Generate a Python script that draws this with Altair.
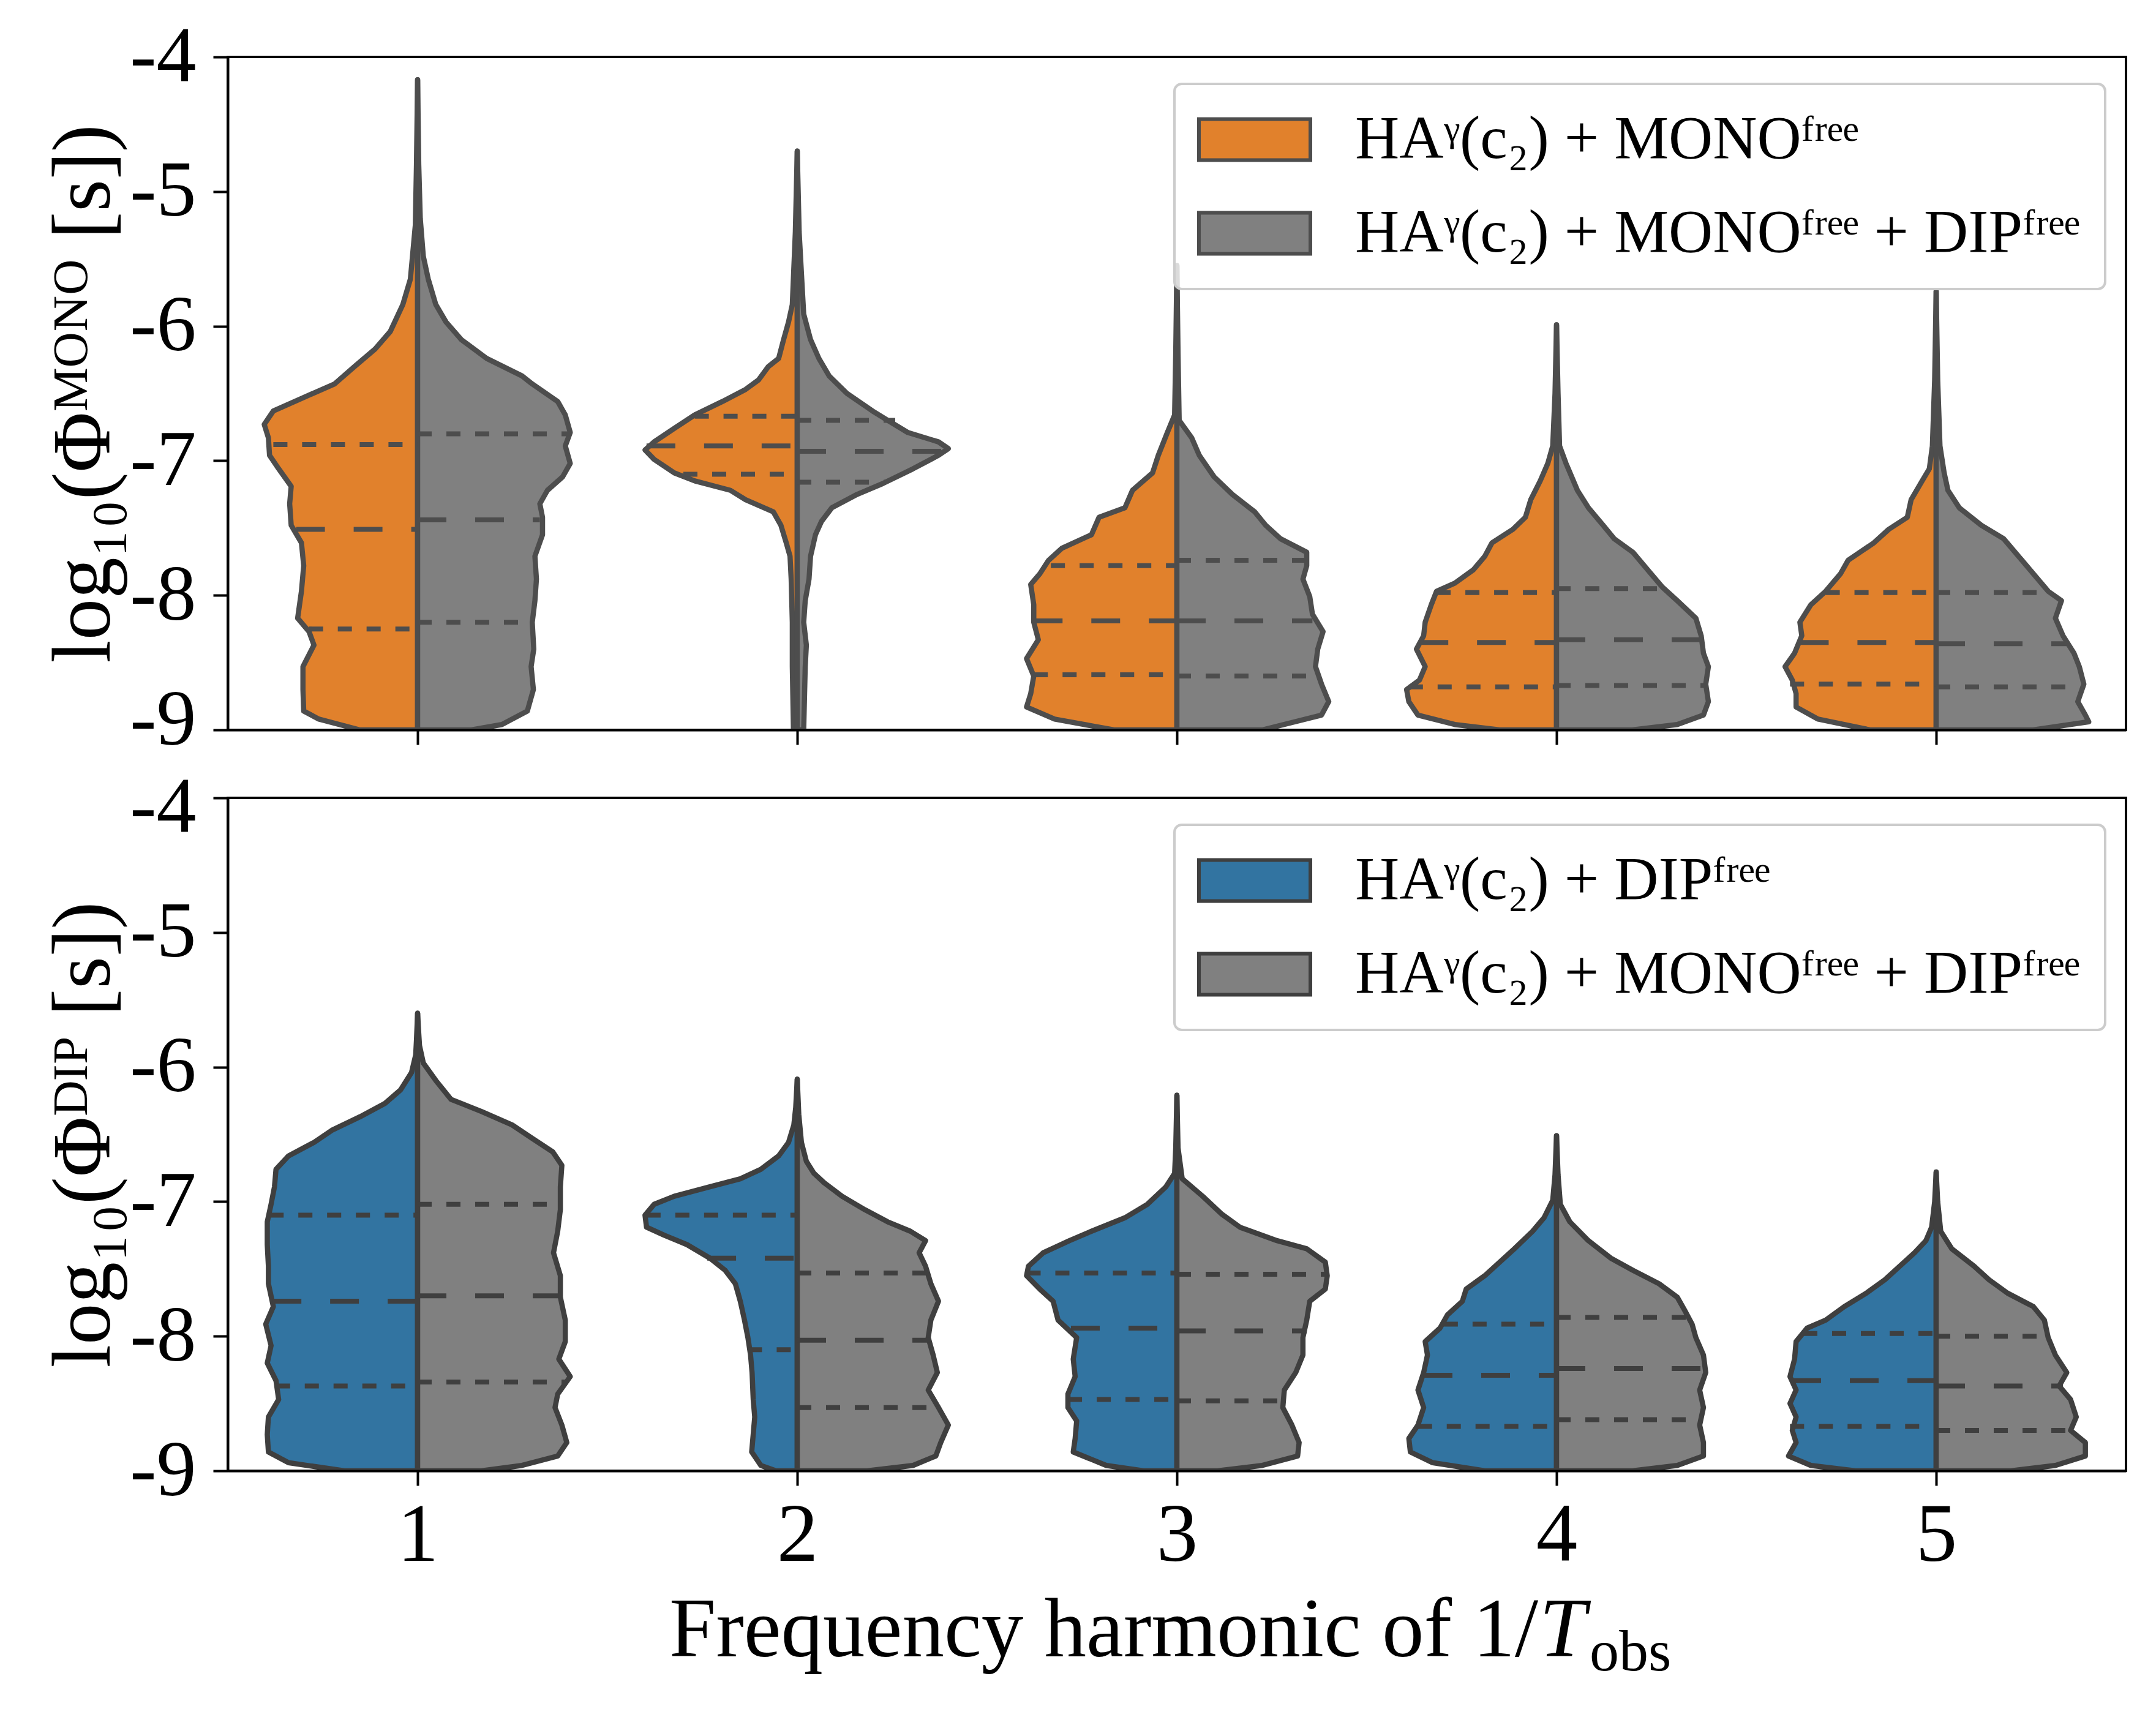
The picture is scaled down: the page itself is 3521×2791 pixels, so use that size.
import altair as alt
import pandas as pd

FONT = "Liberation Serif, DejaVu Serif, serif"
HARMONICS = [1, 2, 3, 4, 5]
LBL_MONO = "HAᵞ(c₂) + MONOᶠʳᵉᵉ"
LBL_DIP = "HAᵞ(c₂) + DIPᶠʳᵉᵉ"
LBL_BOTH = "HAᵞ(c₂) + MONOᶠʳᵉᵉ + DIPᶠʳᵉᵉ"
YTITLE_MONO = "log₁₀(Φᴹᴼᴺᴼ [s])"
YTITLE_DIP = "log₁₀(Φᴰᴵᴾ [s])"
XTITLE_MAIN = "Frequency harmonic of 1/"
XTITLE_T = "T"
XTITLE_SUB = "obs"

ORANGE = "#e1812c"
BLUE = "#3274a1"
GRAY = "#808080"
EDGE_TOP = "#4d4d4d"
EDGE_BOT = "#3f3f3f"

# ---------------- top panel (monopole) : violin half profiles (y, half width) ----------------
mono_h1_a_y = [-4.17, -4.8, -5.25, -5.65, -5.84, -6.04, -6.17, -6.30, -6.43, -6.53, -6.63, -6.73, -6.83, -6.96, -7.06, -7.19, -7.32, -7.48, -7.61, -7.78, -7.97, -8.17, -8.27, -8.37, -8.53, -8.70, -8.86, -8.92, -9.0]
mono_h1_a_w = [0.0, 0.003, 0.006, 0.019, 0.039, 0.072, 0.112, 0.166, 0.219, 0.30, 0.38, 0.404, 0.393, 0.39, 0.366, 0.333, 0.337, 0.333, 0.306, 0.30, 0.306, 0.316, 0.286, 0.273, 0.302, 0.302, 0.30, 0.26, 0.152]
mono_h1_b_y = [-4.17, -4.8, -5.2, -5.48, -5.65, -5.84, -5.97, -6.10, -6.24, -6.37, -6.43, -6.56, -6.66, -6.79, -6.89, -7.02, -7.12, -7.22, -7.32, -7.42, -7.55, -7.71, -7.88, -8.04, -8.20, -8.40, -8.53, -8.70, -8.86, -8.96, -9.0]
mono_h1_b_w = [0.0, 0.003, 0.007, 0.015, 0.028, 0.048, 0.075, 0.115, 0.182, 0.275, 0.302, 0.369, 0.389, 0.402, 0.389, 0.402, 0.382, 0.342, 0.322, 0.329, 0.329, 0.309, 0.313, 0.309, 0.302, 0.306, 0.299, 0.305, 0.289, 0.222, 0.142]

mono_h2_a_y = [-4.70, -5.3, -5.84, -5.97, -6.10, -6.24, -6.30, -6.40, -6.47, -6.56, -6.66, -6.76, -6.86, -6.92, -6.99, -7.09, -7.15, -7.22, -7.29, -7.38, -7.48, -7.61, -7.71, -7.88, -8.20, -8.53, -9.0]
mono_h2_a_w = [0.0, 0.005, 0.013, 0.023, 0.036, 0.049, 0.076, 0.102, 0.136, 0.197, 0.27, 0.324, 0.377, 0.401, 0.377, 0.324, 0.27, 0.176, 0.136, 0.063, 0.043, 0.029, 0.019, 0.016, 0.013, 0.013, 0.010]
mono_h2_b_y = [-4.70, -5.3, -5.71, -5.91, -6.10, -6.24, -6.37, -6.50, -6.63, -6.70, -6.79, -6.86, -6.91, -6.96, -7.06, -7.17, -7.25, -7.35, -7.45, -7.55, -7.71, -7.88, -8.04, -8.20, -8.37, -8.53, -9.0]
mono_h2_b_w = [0.0, 0.005, 0.013, 0.017, 0.035, 0.057, 0.084, 0.131, 0.198, 0.238, 0.291, 0.372, 0.398, 0.372, 0.305, 0.225, 0.158, 0.091, 0.064, 0.048, 0.035, 0.031, 0.021, 0.017, 0.024, 0.021, 0.017]

mono_h3_a_y = [-5.55, -6.2, -6.66, -6.79, -6.96, -7.09, -7.22, -7.35, -7.42, -7.55, -7.65, -7.74, -7.84, -7.92, -8.07, -8.20, -8.33, -8.47, -8.60, -8.73, -8.83, -8.92, -9.0]
mono_h3_a_w = [0.0, 0.003, 0.006, 0.025, 0.049, 0.064, 0.117, 0.137, 0.205, 0.225, 0.303, 0.338, 0.361, 0.385, 0.377, 0.377, 0.365, 0.396, 0.377, 0.385, 0.396, 0.322, 0.166]
mono_h3_b_y = [-5.55, -6.2, -6.70, -6.83, -6.96, -7.12, -7.25, -7.38, -7.48, -7.58, -7.68, -7.78, -7.88, -8.01, -8.14, -8.27, -8.40, -8.53, -8.66, -8.79, -8.89, -9.0]
mono_h3_b_w = [0.0, 0.003, 0.006, 0.039, 0.059, 0.098, 0.146, 0.205, 0.234, 0.273, 0.342, 0.342, 0.332, 0.35, 0.357, 0.385, 0.371, 0.365, 0.381, 0.40, 0.381, 0.225]

mono_h4_a_y = [-5.99, -6.5, -6.89, -7.02, -7.15, -7.29, -7.42, -7.51, -7.61, -7.71, -7.81, -7.91, -7.97, -8.07, -8.20, -8.30, -8.40, -8.53, -8.63, -8.70, -8.79, -8.89, -8.96, -9.0]
mono_h4_a_w = [0.0, 0.004, 0.01, 0.023, 0.043, 0.068, 0.082, 0.115, 0.17, 0.189, 0.219, 0.268, 0.316, 0.33, 0.346, 0.35, 0.369, 0.346, 0.361, 0.395, 0.389, 0.365, 0.268, 0.15]
mono_h4_b_y = [-5.99, -6.5, -6.89, -7.02, -7.22, -7.35, -7.48, -7.58, -7.68, -7.81, -7.94, -8.04, -8.17, -8.30, -8.43, -8.53, -8.66, -8.79, -8.89, -8.96, -9.0]
mono_h4_b_w = [0.0, 0.004, 0.008, 0.025, 0.055, 0.084, 0.123, 0.152, 0.201, 0.24, 0.279, 0.318, 0.367, 0.381, 0.387, 0.40, 0.393, 0.40, 0.387, 0.318, 0.2]

mono_h5_a_y = [-5.74, -6.4, -6.89, -7.06, -7.15, -7.29, -7.42, -7.51, -7.61, -7.74, -7.84, -7.97, -8.07, -8.20, -8.30, -8.43, -8.53, -8.63, -8.73, -8.83, -8.92, -9.0]
mono_h5_a_w = [0.0, 0.004, 0.01, 0.018, 0.037, 0.066, 0.076, 0.125, 0.164, 0.232, 0.252, 0.291, 0.33, 0.359, 0.354, 0.373, 0.398, 0.379, 0.369, 0.369, 0.311, 0.174]
mono_h5_b_y = [-5.74, -6.4, -6.89, -7.09, -7.22, -7.35, -7.48, -7.58, -7.71, -7.84, -7.97, -8.04, -8.17, -8.30, -8.43, -8.53, -8.66, -8.79, -8.89, -8.94, -9.0]
mono_h5_b_w = [0.0, 0.004, 0.01, 0.021, 0.031, 0.061, 0.119, 0.178, 0.217, 0.256, 0.295, 0.33, 0.314, 0.334, 0.363, 0.377, 0.389, 0.373, 0.393, 0.402, 0.256]

# quartiles (q25, median, q75 as y) and their half widths; side a = left, b = right
mono_q_a_y = [[-6.88, -7.51, -8.25], [-6.67, -6.89, -7.10], [-7.78, -8.19, -8.59], [-7.98, -8.35, -8.68], [-7.98, -8.35, -8.66]]
mono_q_a_w = [[0.38, 0.32, 0.286], [0.27, 0.397, 0.30], [0.332, 0.377, 0.377], [0.316, 0.361, 0.389], [0.291, 0.359, 0.385]]
mono_q_b_y = [[-6.80, -7.44, -8.20], [-6.70, -6.93, -7.16], [-7.74, -8.19, -8.60], [-7.95, -8.33, -8.67], [-7.98, -8.36, -8.68]]
mono_q_b_w = [[0.396, 0.322, 0.302], [0.258, 0.385, 0.231], [0.342, 0.357, 0.361], [0.275, 0.381, 0.393], [0.295, 0.344, 0.377]]

# ---------------- bottom panel (dipole) ----------------
dip_h1_a_y = [-5.60, -5.8, -5.91, -6.04, -6.17, -6.27, -6.37, -6.47, -6.56, -6.66, -6.76, -6.89, -7.02, -7.15, -7.32, -7.48, -7.61, -7.78, -7.91, -8.07, -8.20, -8.33, -8.47, -8.60, -8.73, -8.86, -8.94, -9.0]
dip_h1_a_w = [0.0, 0.003, 0.005, 0.016, 0.045, 0.086, 0.152, 0.226, 0.273, 0.34, 0.373, 0.377, 0.386, 0.396, 0.396, 0.393, 0.393, 0.38, 0.40, 0.386, 0.396, 0.373, 0.366, 0.393, 0.396, 0.393, 0.34, 0.193]
dip_h1_b_y = [-5.60, -5.75, -5.84, -5.97, -6.10, -6.24, -6.33, -6.43, -6.53, -6.63, -6.73, -6.89, -7.06, -7.22, -7.38, -7.55, -7.71, -7.88, -8.04, -8.17, -8.30, -8.43, -8.53, -8.66, -8.79, -8.89, -8.96, -9.0]
dip_h1_b_w = [0.0, 0.003, 0.005, 0.015, 0.048, 0.088, 0.168, 0.249, 0.302, 0.356, 0.38, 0.376, 0.376, 0.369, 0.358, 0.376, 0.376, 0.389, 0.389, 0.372, 0.402, 0.369, 0.362, 0.38, 0.393, 0.369, 0.275, 0.168]

dip_h2_a_y = [-6.09, -6.3, -6.43, -6.56, -6.66, -6.76, -6.83, -6.89, -6.96, -7.02, -7.10, -7.19, -7.25, -7.32, -7.42, -7.51, -7.61, -7.74, -7.88, -8.01, -8.14, -8.27, -8.47, -8.60, -8.73, -8.86, -8.96, -9.0]
dip_h2_a_w = [0.0, 0.004, 0.009, 0.023, 0.049, 0.096, 0.15, 0.23, 0.324, 0.377, 0.401, 0.397, 0.35, 0.29, 0.23, 0.19, 0.163, 0.15, 0.139, 0.13, 0.123, 0.119, 0.116, 0.112, 0.116, 0.12, 0.096, 0.056]
dip_h2_b_y = [-6.09, -6.35, -6.56, -6.70, -6.79, -6.86, -6.96, -7.06, -7.15, -7.22, -7.29, -7.38, -7.48, -7.61, -7.74, -7.88, -8.01, -8.14, -8.27, -8.40, -8.53, -8.66, -8.79, -8.89, -8.96, -9.0]
dip_h2_b_w = [0.0, 0.004, 0.011, 0.024, 0.044, 0.071, 0.118, 0.178, 0.238, 0.298, 0.338, 0.321, 0.338, 0.352, 0.372, 0.352, 0.345, 0.358, 0.369, 0.345, 0.372, 0.398, 0.378, 0.365, 0.305, 0.184]

dip_h3_a_y = [-6.21, -6.6, -6.79, -6.89, -7.02, -7.12, -7.22, -7.29, -7.38, -7.48, -7.55, -7.65, -7.74, -7.88, -8.01, -8.17, -8.30, -8.43, -8.53, -8.63, -8.76, -8.86, -8.96, -9.0]
dip_h3_a_w = [0.0, 0.003, 0.006, 0.029, 0.078, 0.137, 0.225, 0.283, 0.352, 0.391, 0.396, 0.361, 0.326, 0.313, 0.264, 0.273, 0.268, 0.287, 0.287, 0.264, 0.268, 0.273, 0.186, 0.088]
dip_h3_b_y = [-6.21, -6.6, -6.83, -6.96, -7.09, -7.19, -7.29, -7.35, -7.45, -7.55, -7.65, -7.74, -7.88, -8.01, -8.14, -8.27, -8.40, -8.53, -8.66, -8.79, -8.89, -8.96, -9.0]
dip_h3_b_w = [0.0, 0.003, 0.014, 0.068, 0.117, 0.166, 0.264, 0.342, 0.391, 0.396, 0.391, 0.35, 0.342, 0.332, 0.332, 0.313, 0.283, 0.279, 0.303, 0.322, 0.318, 0.225, 0.107]

dip_h4_a_y = [-6.51, -6.8, -6.99, -7.12, -7.22, -7.35, -7.45, -7.55, -7.65, -7.74, -7.84, -7.94, -8.04, -8.14, -8.27, -8.40, -8.53, -8.66, -8.76, -8.86, -8.94, -9.0]
dip_h4_a_w = [0.0, 0.004, 0.01, 0.033, 0.063, 0.111, 0.15, 0.189, 0.238, 0.248, 0.287, 0.307, 0.346, 0.34, 0.35, 0.365, 0.35, 0.365, 0.389, 0.385, 0.326, 0.189]
dip_h4_b_y = [-6.51, -6.8, -7.02, -7.15, -7.29, -7.42, -7.51, -7.61, -7.71, -7.81, -7.91, -8.01, -8.14, -8.27, -8.40, -8.53, -8.66, -8.79, -8.89, -8.96, -9.0]
dip_h4_b_w = [0.0, 0.004, 0.01, 0.035, 0.084, 0.143, 0.201, 0.27, 0.318, 0.338, 0.357, 0.367, 0.387, 0.393, 0.377, 0.387, 0.377, 0.387, 0.387, 0.318, 0.2]

dip_h5_a_y = [-6.78, -7.0, -7.19, -7.29, -7.38, -7.48, -7.58, -7.68, -7.78, -7.88, -7.94, -8.04, -8.17, -8.30, -8.40, -8.50, -8.60, -8.70, -8.79, -8.89, -8.96, -9.0]
dip_h5_a_w = [0.0, 0.004, 0.012, 0.027, 0.057, 0.096, 0.135, 0.184, 0.242, 0.291, 0.34, 0.369, 0.373, 0.385, 0.369, 0.385, 0.369, 0.379, 0.369, 0.389, 0.33, 0.213]
dip_h5_b_y = [-6.78, -7.0, -7.22, -7.35, -7.48, -7.58, -7.68, -7.78, -7.88, -8.01, -8.14, -8.27, -8.37, -8.47, -8.60, -8.70, -8.79, -8.89, -8.96, -9.0]
dip_h5_b_w = [0.0, 0.004, 0.012, 0.041, 0.10, 0.139, 0.188, 0.256, 0.285, 0.295, 0.314, 0.344, 0.324, 0.354, 0.369, 0.354, 0.393, 0.393, 0.314, 0.197]

dip_q_a_y = [[-7.10, -7.74, -8.37], [-7.10, -7.42, -8.10], [-7.53, -7.94, -8.47], [-7.91, -8.29, -8.67], [-7.98, -8.33, -8.67]]
dip_q_a_w = [[0.39, 0.382, 0.373], [0.397, 0.237, 0.13], [0.396, 0.279, 0.287], [0.297, 0.35, 0.365], [0.35, 0.379, 0.385]]
dip_q_b_y = [[-7.02, -7.70, -8.34], [-7.53, -8.03, -8.53], [-7.54, -7.96, -8.48], [-7.86, -8.24, -8.62], [-8.00, -8.37, -8.70]]
dip_q_b_w = [[0.376, 0.372, 0.393], [0.345, 0.352, 0.365], [0.396, 0.342, 0.283], [0.348, 0.387, 0.377], [0.285, 0.334, 0.363]]

MONO_HALVES = [
    (1, mono_h1_a_y, mono_h1_a_w, mono_h1_b_y, mono_h1_b_w),
    (2, mono_h2_a_y, mono_h2_a_w, mono_h2_b_y, mono_h2_b_w),
    (3, mono_h3_a_y, mono_h3_a_w, mono_h3_b_y, mono_h3_b_w),
    (4, mono_h4_a_y, mono_h4_a_w, mono_h4_b_y, mono_h4_b_w),
    (5, mono_h5_a_y, mono_h5_a_w, mono_h5_b_y, mono_h5_b_w),
]
DIP_HALVES = [
    (1, dip_h1_a_y, dip_h1_a_w, dip_h1_b_y, dip_h1_b_w),
    (2, dip_h2_a_y, dip_h2_a_w, dip_h2_b_y, dip_h2_b_w),
    (3, dip_h3_a_y, dip_h3_a_w, dip_h3_b_y, dip_h3_b_w),
    (4, dip_h4_a_y, dip_h4_a_w, dip_h4_b_y, dip_h4_b_w),
    (5, dip_h5_a_y, dip_h5_a_w, dip_h5_b_y, dip_h5_b_w),
]


def violin_df(halves, lbl_a, lbl_b):
    rows = []
    for h, ya, wa, yb, wb in halves:
        for side, ys, ws, lbl, sgn in (("a", ya, wa, lbl_a, -1), ("b", yb, wb, lbl_b, 1)):
            for i, (y, w) in enumerate(zip(ys, ws)):
                rows.append({"h": h, "grp": f"{h}{side}", "y": y, "xe": h + sgn * w,
                             "model": lbl, "i": i})
    return pd.DataFrame(rows)


def quart_df(qay, qaw, qby, qbw):
    rows = []
    kinds = ["q", "m", "q"]
    for k, h in enumerate(HARMONICS):
        for j in range(3):
            rows.append({"xs": h - qaw[k][j], "xe2": h, "y": qay[k][j], "kind": kinds[j]})
            rows.append({"xs": h, "xe2": h + qbw[k][j], "y": qby[k][j], "kind": kinds[j]})
    return pd.DataFrame(rows)


W, H = 3100, 1099
XSCALE = alt.Scale(domain=[0.5, 5.5], nice=False, zero=False)
YSCALE = alt.Scale(domain=[-9, -4], nice=False, zero=False)


def x_axis(show_labels):
    return alt.Axis(values=HARMONICS, format="d", labels=show_labels, title=None, grid=False,
                    labelFont=FONT, labelFontSize=135, labelColor="black", labelPadding=15,
                    tickSize=24, tickWidth=4, tickColor="black", domain=True,
                    domainColor="black", domainWidth=4, zindex=1)


def y_axis(title, shift_value, shift):
    return alt.Axis(values=[-9, -8, -7, -6, -5, -4], labelExpr="'-' + abs(datum.value)",
                    title=title, titleFont=FONT, titleFontSize=135, titleFontWeight="normal",
                    titleColor="black", titlePadding=5, grid=False,
                    labelFont=FONT, labelFontSize=130, labelColor="black", labelPadding=28,
                    labelOffset={"condition": {"test": f"datum.value == {shift_value}",
                                               "value": shift}, "value": 0},
                    tickSize=24, tickWidth=4, tickColor="black", domain=True,
                    domainColor="black", domainWidth=4, zindex=1)


def panel(vdf, qdf, lbl_a, lbl_b, col_a, edge, ytitle, show_labels, shift_value, shift):
    legend = alt.Legend(title=None, orient="none", legendX=1546, legendY=44,
                        direction="vertical", symbolType="M-2,-0.736H2V0.736H-2Z",
                        symbolSize=8281, symbolOffset=40, symbolStrokeColor=edge,
                        symbolStrokeWidth=6, symbolOpacity=1, labelFont=FONT,
                        labelFontSize=100, labelColor="black", labelOffset=114,
                        labelLimit=0, padding=41, rowPadding=53,
                        fillColor="rgba(255,255,255,0.8)", strokeColor="#cccccc",
                        cornerRadius=12)
    yax = y_axis(ytitle, shift_value, shift)
    xax = x_axis(show_labels)
    area = alt.Chart(vdf).mark_area(
        orient="horizontal", stroke=edge, strokeWidth=8.5, strokeJoin="round",
        fillOpacity=1, clip=True
    ).encode(
        y=alt.Y("y:Q", scale=YSCALE, axis=yax),
        x=alt.X("xe:Q", scale=XSCALE, axis=xax),
        x2="h:Q",
        detail="grp:N",
        color=alt.Color("model:N", scale=alt.Scale(domain=[lbl_a, lbl_b], range=[col_a, GRAY]),
                        legend=legend),
    )
    rules = alt.Chart(qdf).mark_rule(stroke=edge, strokeWidth=8, clip=True).encode(
        y=alt.Y("y:Q", scale=YSCALE, axis=yax),
        x=alt.X("xs:Q", scale=XSCALE, axis=xax),
        x2="xe2:Q",
        strokeDash=alt.StrokeDash("kind:N", scale=alt.Scale(domain=["q", "m"],
                                  range=[[23, 24], [47, 47]]), legend=None),
    )
    return area, rules


mono_v = violin_df(MONO_HALVES, LBL_MONO, LBL_BOTH)
dip_v = violin_df(DIP_HALVES, LBL_DIP, LBL_BOTH)
mono_q = quart_df(mono_q_a_y, mono_q_a_w, mono_q_b_y, mono_q_b_w)
dip_q = quart_df(dip_q_a_y, dip_q_a_w, dip_q_b_y, dip_q_b_w)

ta, tr = panel(mono_v, mono_q, LBL_MONO, LBL_BOTH, ORANGE, EDGE_TOP, YTITLE_MONO, False, -9, -16)
ba, br = panel(dip_v, dip_q, LBL_DIP, LBL_BOTH, BLUE, EDGE_BOT, YTITLE_DIP, True, -4, 16)

one = pd.DataFrame({"k": [0]})
t_main = alt.Chart(one).mark_text(text=XTITLE_MAIN, font=FONT, fontSize=137, align="right",
                                  baseline="alphabetic", color="black").encode(
    x=alt.value(2140), y=alt.value(1402))
t_T = alt.Chart(one).mark_text(text=XTITLE_T, font=FONT, fontSize=137, fontStyle="italic",
                               align="left", baseline="alphabetic", color="black").encode(
    x=alt.value(2142), y=alt.value(1402))
t_sub = alt.Chart(one).mark_text(text=XTITLE_SUB, font=FONT, fontSize=96, align="left",
                                 baseline="alphabetic", color="black").encode(
    x=alt.value(2224), y=alt.value(1425))

top = alt.layer(ta, tr).properties(width=W, height=H)
bottom = alt.layer(ba, br, t_main, t_T, t_sub).properties(width=W, height=H)

chart = alt.vconcat(top, bottom, spacing=111, bounds="flush").resolve_scale(
    color="independent", strokeDash="shared"
).resolve_legend(color="independent").properties(
    padding={"left": 60, "top": 18, "right": 5, "bottom": 5},
    background="white",
).configure_view(stroke="black", strokeWidth=4).configure_legend(strokeWidth=4)

chart.save("out.html", embed_options={"renderer": "svg", "actions": False})
